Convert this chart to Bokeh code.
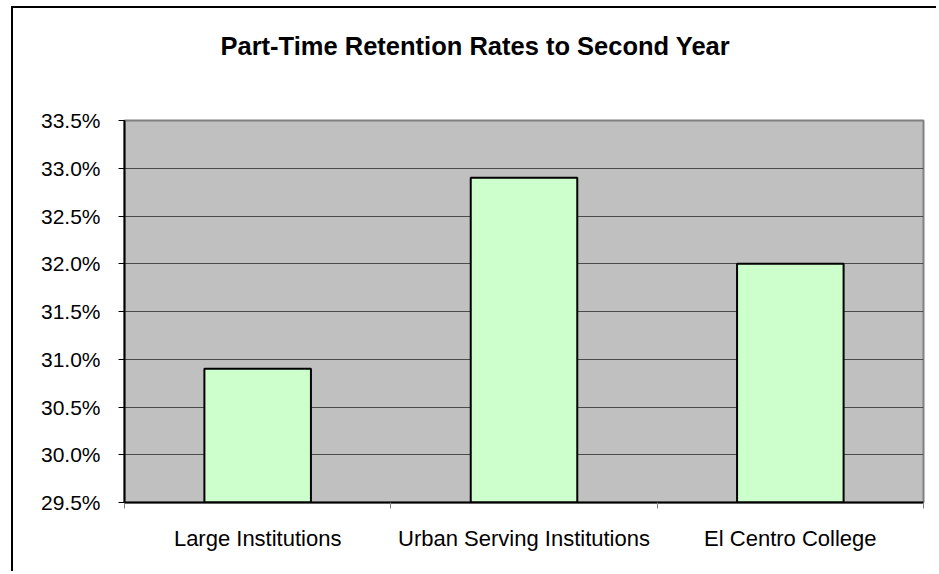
from bokeh.plotting import figure
from bokeh.models import Range1d, FixedTicker, PrintfTickFormatter, Title
from bokeh.embed import file_html
from bokeh.resources import INLINE

# Data
categories = ["Large Institutions", "Urban Serving Institutions", "El Centro College"]
retention = [30.9, 32.9, 32.0]
y_ticks = [29.5, 30.0, 30.5, 31.0, 31.5, 32.0, 32.5, 33.0, 33.5]
title_text = "Part-Time Retention Rates to Second Year"

FONT = "Liberation Sans"

x_pos = [i + 0.5 for i in range(len(categories))]

p = figure(width=925, height=565, output_backend="svg", toolbar_location=None,
           x_range=Range1d(0, len(categories)), y_range=Range1d(y_ticks[0], y_ticks[-1]),
           min_border_left=111, min_border_right=15, min_border_top=112, min_border_bottom=71)
p.styles = {"margin-left": "11px", "margin-top": "6px",
            "border-left": "2px solid black", "border-top": "2px solid black"}

p.title.text = title_text
p.title.align = "left"
p.title.offset = 96
p.title.text_font = FONT
p.title.text_font_size = "25.5px"
p.title.text_font_style = "bold"
p.title.text_color = "black"
p.title.standoff = 0

# empty spacer between the title and the plot area
p.add_layout(Title(text=" ", text_font_size="1px", standoff=58), "above")

p.background_fill_color = "#C0C0C0"
p.border_fill_color = "white"
p.outline_line_color = "#808080"
p.outline_line_width = 2

p.vbar(x=x_pos, top=retention, bottom=y_ticks[0], width=0.4,
       fill_color="#CCFFCC", line_color="black", line_width=2)

# x axis
xa = p.xaxis[0]
xa.ticker = FixedTicker(ticks=x_pos, minor_ticks=list(range(len(categories) + 1)))
xa.major_label_overrides = {x: c for x, c in zip(x_pos, categories)}
xa.major_tick_out = 0
xa.major_tick_in = 0
xa.minor_tick_out = 6
xa.minor_tick_in = 0
xa.minor_tick_line_color = "#808080"
xa.axis_line_color = "black"
xa.axis_line_width = 2
xa.major_label_standoff = 17
xa.major_label_text_font = FONT
xa.major_label_text_font_size = "22px"
xa.major_label_text_color = "black"

# y axis
ya = p.yaxis[0]
ya.ticker = FixedTicker(ticks=y_ticks)
ya.formatter = PrintfTickFormatter(format="%.1f%%")
ya.major_tick_out = 6
ya.major_tick_in = 0
ya.minor_tick_out = 0
ya.minor_tick_in = 0
ya.major_tick_line_color = "black"
ya.axis_line_color = "black"
ya.axis_line_width = 2
ya.major_label_standoff = 18
ya.major_label_text_font = FONT
ya.major_label_text_font_size = "21px"
ya.major_label_text_color = "black"

p.xgrid.grid_line_color = None
p.ygrid.grid_line_color = "#4a4a4a"
p.ygrid.grid_line_width = 1

open("out.html", "w").write(file_html(p, INLINE))
